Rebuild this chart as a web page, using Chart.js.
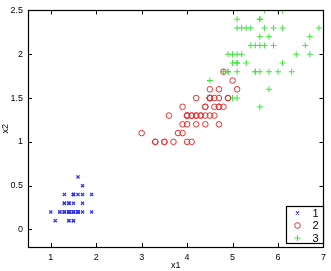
<!DOCTYPE html>
<html>
<head>
<meta charset="utf-8">
<script src="https://cdn.jsdelivr.net/npm/chart.js@4.4.1/dist/chart.umd.min.js"></script>
<style>
  html, body { margin: 0; padding: 0; background: #fff; }
  #wrap { width: 331px; height: 271px; }
</style>
</head>
<body>
<div id="wrap"><canvas id="scatter" width="331" height="271"></canvas></div>
<script>
// petal length (x1) / petal width (x2) per class
const class1X = [1.4,1.4,1.3,1.5,1.4,1.7,1.4,1.5,1.4,1.5,1.5,1.6,1.4,1.1,1.2,1.5,1.3,1.4,1.7,1.5,1.7,1.5,1.0,1.7,1.9,1.6,1.6,1.5,1.4,1.6,1.6,1.5,1.5,1.4,1.5,1.2,1.3,1.4,1.3,1.5,1.3,1.3,1.3,1.6,1.9,1.4,1.6,1.4,1.5,1.4];
const class1Y = [0.2,0.2,0.2,0.2,0.2,0.4,0.3,0.2,0.2,0.1,0.2,0.2,0.1,0.1,0.2,0.4,0.4,0.3,0.3,0.3,0.2,0.4,0.2,0.5,0.2,0.2,0.4,0.2,0.2,0.2,0.2,0.4,0.1,0.2,0.2,0.2,0.2,0.1,0.2,0.2,0.3,0.3,0.2,0.6,0.4,0.3,0.2,0.2,0.2,0.2];

const class2X = [4.7,4.5,4.9,4.0,4.6,4.5,4.7,3.3,4.6,3.9,3.5,4.2,4.0,4.7,3.6,4.4,4.5,4.1,4.5,3.9,4.8,4.0,4.9,4.7,4.3,4.4,4.8,5.0,4.5,3.5,3.8,3.7,3.9,5.1,4.5,4.5,4.7,4.4,4.1,4.0,4.4,4.6,4.0,3.3,4.2,4.2,4.2,4.3,3.0,4.1];
const class2Y = [1.4,1.5,1.5,1.3,1.5,1.3,1.6,1.0,1.3,1.4,1.0,1.5,1.0,1.4,1.3,1.4,1.5,1.0,1.5,1.1,1.8,1.3,1.5,1.2,1.3,1.4,1.4,1.7,1.5,1.0,1.1,1.0,1.2,1.6,1.5,1.6,1.5,1.3,1.3,1.3,1.2,1.4,1.2,1.0,1.3,1.2,1.3,1.3,1.1,1.3];

const class3X = [6.0,5.1,5.9,5.6,5.8,6.6,4.5,6.3,5.8,6.1,5.1,5.3,5.5,5.0,5.1,5.3,5.5,6.7,6.9,5.0,5.7,4.9,6.7,4.9,5.7,6.0,4.8,4.9,5.6,5.8,6.1,6.4,5.6,5.1,5.6,6.1,5.6,5.5,4.8,5.4,5.6,5.1,5.1,5.9,5.7,5.2,5.0,5.2,5.4,5.1];
const class3Y = [2.5,1.9,2.1,1.8,2.2,2.1,1.7,1.8,1.8,2.5,2.0,1.9,2.1,2.0,2.4,2.3,1.8,2.2,2.3,1.5,2.3,2.0,2.0,1.8,2.1,1.8,1.8,1.8,2.1,1.6,1.9,2.0,2.2,1.5,1.4,2.3,2.4,1.8,1.8,2.1,2.4,2.3,1.9,2.3,2.5,2.3,1.9,2.0,2.3,1.8];

const classNames = ['1', '2', '3'];
const xTicks = [1, 2, 3, 4, 5, 6, 7];
const yTicks = [0, 0.5, 1, 1.5, 2, 2.5];

function toPoints(xs, ys) {
  return xs.map((x, i) => ({ x: x, y: ys[i] }));
}

const FONT = { family: 'Liberation Sans, Arial, sans-serif', size: 9 };

const markerStyles = [
  { pointStyle: 'crossRot', radius: 2.2, color: 'rgb(50,50,235)', borderWidth: 1.2 },
  { pointStyle: 'circle', radius: 2.8, color: 'rgb(235,45,45)', borderWidth: 1 },
  { pointStyle: 'cross', radius: 3, color: 'rgb(60,230,60)', borderWidth: 1 }
];

// box round the plot, inward ticks on all sides, legend inside lower right
const matlabFrame = {
  id: 'matlabFrame',
  afterDraw(chart) {
    const ctx = chart.ctx;
    const a = chart.chartArea;
    const xs = chart.scales.x, ys = chart.scales.y;
    ctx.save();
    ctx.strokeStyle = '#000';
    ctx.lineWidth = 1;
    ctx.beginPath();
    xTicks.forEach(v => {
      const px = Math.round(xs.getPixelForValue(v)) + 0.5;
      ctx.moveTo(px, a.bottom); ctx.lineTo(px, a.bottom - 4);
      ctx.moveTo(px, a.top); ctx.lineTo(px, a.top + 4);
    });
    yTicks.forEach(v => {
      const py = Math.round(ys.getPixelForValue(v)) + 0.5;
      ctx.moveTo(a.left, py); ctx.lineTo(a.left + 4, py);
      ctx.moveTo(a.right, py); ctx.lineTo(a.right - 4, py);
    });
    ctx.stroke();
    ctx.lineWidth = 1.2;
    ctx.strokeRect(Math.round(a.left) + 0.5, Math.round(a.top) + 0.5,
      Math.round(a.right - a.left), Math.round(a.bottom - a.top));

    // legend
    const bw = 37, bh = 37;
    const bx = Math.round(a.right) - bw + 0.5, by = Math.round(a.bottom) - bh - 4 + 0.5;
    ctx.fillStyle = '#fff';
    ctx.fillRect(bx, by, bw, bh);
    ctx.strokeStyle = '#000';
    ctx.lineWidth = 1.2;
    ctx.strokeRect(bx, by, bw, bh);
    ctx.font = '11px ' + FONT.family;
    ctx.textBaseline = 'middle';
    ctx.textAlign = 'left';
    classNames.forEach((name, i) => {
      const m = markerStyles[i];
      const cy = by + 6.5 + i * 12.5;
      ctx.strokeStyle = m.color;
      ctx.fillStyle = 'rgba(0,0,0,0)';
      ctx.lineWidth = m.borderWidth;
      Chart.helpers.drawPoint(ctx, {
        pointStyle: m.pointStyle, radius: m.radius, rotation: 0,
        borderWidth: m.borderWidth
      }, bx + 11, cy);
      ctx.fillStyle = '#000';
      ctx.fillText(name, bx + 26, cy + 0.5);
    });
    ctx.restore();
  }
};

const chart = new Chart(document.getElementById('scatter').getContext('2d'), {
  type: 'scatter',
  data: {
    datasets: [
      { label: classNames[0], data: toPoints(class1X, class1Y), order: 3 },
      { label: classNames[1], data: toPoints(class2X, class2Y), order: 2 },
      { label: classNames[2], data: toPoints(class3X, class3Y), order: 1 }
    ].map((ds, i) => Object.assign(ds, {
      pointStyle: markerStyles[i].pointStyle,
      pointRadius: markerStyles[i].radius,
      pointBorderColor: markerStyles[i].color,
      pointBackgroundColor: 'rgba(0,0,0,0)',
      pointBorderWidth: markerStyles[i].borderWidth
    }))
  },
  options: {
    responsive: false,
    animation: false,
    events: [],
    layout: { padding: { left: 0, right: 3, top: 9, bottom: 0 } },
    plugins: {
      legend: { display: false },
      tooltip: { enabled: false }
    },
    scales: {
      x: {
        type: 'linear',
        min: 0.5,
        max: 7,
        afterBuildTicks: scale => { scale.ticks = xTicks.map(v => ({ value: v })); },
        afterFit: scale => { scale.height = 24; },
        grid: { display: false, drawTicks: false },
        border: { display: false },
        ticks: { color: '#000', font: FONT, padding: 5, maxRotation: 0, callback: v => String(v) },
        title: { display: true, text: 'x1', color: '#000', font: FONT, padding: { top: 0, bottom: 0 } }
      },
      y: {
        type: 'linear',
        min: -0.2,
        max: 2.5,
        afterBuildTicks: scale => { scale.ticks = yTicks.map(v => ({ value: v })); },
        afterFit: scale => { scale.width = 28; },
        grid: { display: false, drawTicks: false },
        border: { display: false },
        ticks: { color: '#000', font: FONT, padding: 5, callback: v => String(v) },
        title: { display: true, text: 'x2', color: '#000', font: FONT, padding: { top: 0, bottom: 0 } }
      }
    }
  },
  plugins: [matlabFrame]
});
</script>
</body>
</html>
